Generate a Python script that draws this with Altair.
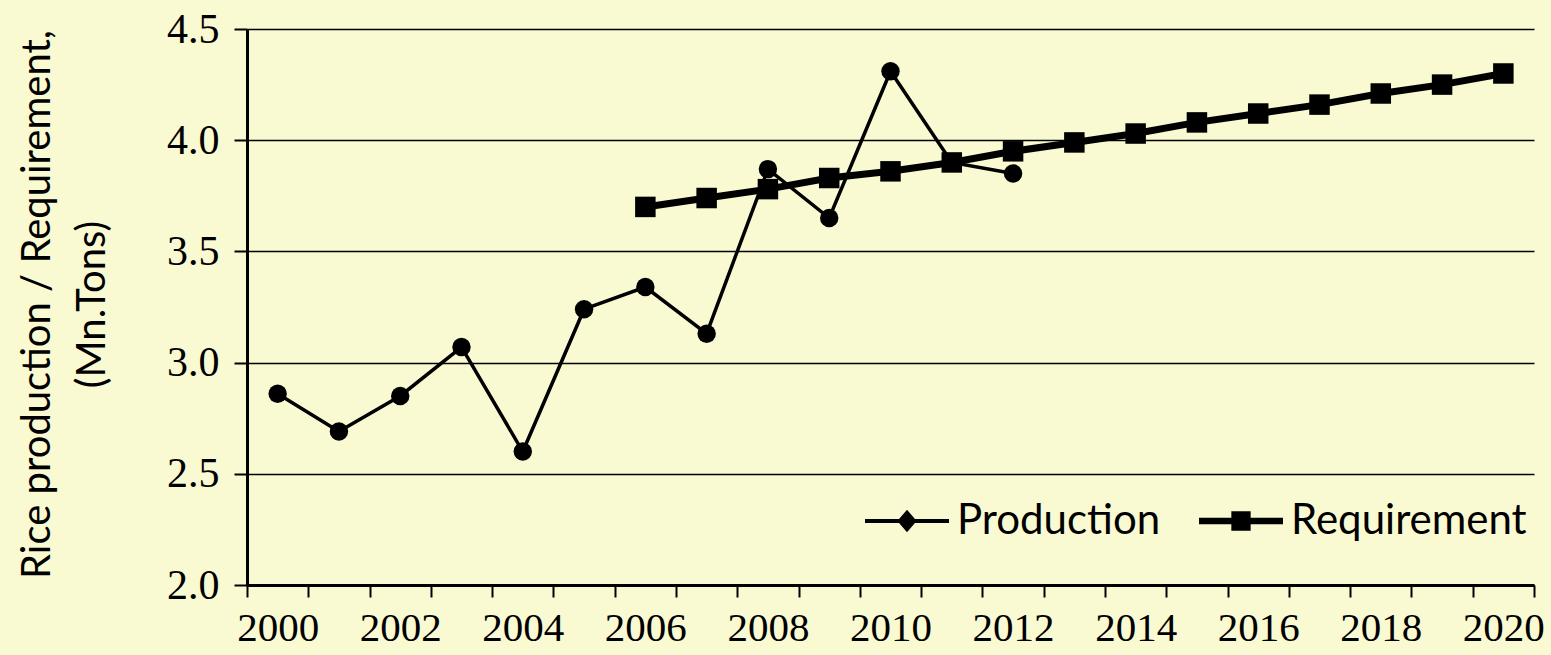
import altair as alt
import pandas as pd

# ---- data ----
prod_years = [2000, 2001, 2002, 2003, 2004, 2005, 2006, 2007, 2008, 2009, 2010, 2011, 2012]
prod_values = [2.86, 2.69, 2.85, 3.07, 2.60, 3.24, 3.34, 3.13, 3.87, 3.65, 4.31, 3.90, 3.85]

req_years = [2006, 2007, 2008, 2009, 2010, 2011, 2012, 2013, 2014, 2015, 2016, 2017, 2018, 2019, 2020]
req_values = [3.70, 3.74, 3.78, 3.83, 3.86, 3.90, 3.95, 3.99, 4.03, 4.08, 4.12, 4.16, 4.21, 4.25, 4.30]

all_years = list(range(2000, 2021))
series_names = ["Production", "Requirement"]
y_title = ["Rice production / Requirement,", "(Mn.Tons)"]

df = pd.DataFrame(
    {"year": prod_years + req_years,
     "value": prod_values + req_values,
     "series": ["Production"] * len(prod_years) + ["Requirement"] * len(req_years)}
)

BG = "#FAFAD2"
SERIF = "Liberation Serif"
SANS = "Lato"

x_enc = alt.X(
    "year:O",
    scale=alt.Scale(domain=all_years, paddingInner=0, paddingOuter=0),
    axis=alt.Axis(
        title=None,
        grid=False,
        tickBand="extent",
        labelExpr="datum.value % 2 == 0 ? datum.label : ''",
        labelAngle=0,
        labelFont=SERIF,
        labelFontSize=41,
        labelColor="black",
        labelPadding=11,
        tickColor="black",
        tickWidth=2,
        tickSize=12,
        domainColor="black",
        domainWidth=3,
        labelOverlap=False,
    ),
)
y_enc = alt.Y(
    "value:Q",
    scale=alt.Scale(domain=[2.0, 4.5], nice=False, zero=False),
    axis=alt.Axis(
        values=[2.0, 2.5, 3.0, 3.5, 4.0, 4.5],
        format=".1f",
        title=y_title,
        titleFont=SANS,
        titleFontSize=40,
        titleFontWeight="normal",
        titleColor="black",
        titleAngle=270,
        titleAlign="center",
        titleBaseline="top",
        titleLineHeight=55,
        titleX=-230,
        titleY=275,
        labelFont=SERIF,
        labelFontSize=42,
        labelColor="black",
        labelPadding=15,
        tickColor="black",
        tickWidth=2,
        tickSize=13,
        domainColor="black",
        domainWidth=3,
        grid=True,
        gridColor="black",
        gridWidth=1.5,
    ),
)

base = alt.Chart(df).encode(x=x_enc, y=y_enc)

prod = base.transform_filter(alt.datum.series == "Production")
req = base.transform_filter(alt.datum.series == "Requirement")

prod_line = prod.mark_line(color="black", strokeWidth=3.5)
prod_pts = prod.mark_point(shape="circle", filled=True, color="black", size=340, opacity=1)
req_line = req.mark_line(color="black", strokeWidth=7)
req_pts = req.mark_point(shape="square", filled=True, color="black", size=420, opacity=1)

path_prod = "M-1,-0.045H1V0.045H-1Z M0,-0.27L0.23,0L0,0.27L-0.23,0Z"
path_req = "M-1,-0.08H1V0.08H-1Z M-0.23,-0.23H0.23V0.23H-0.23Z"

legend_layer = (
    alt.Chart(df)
    .transform_filter("datum.value < 0")
    .mark_point(filled=True, color="black", opacity=1, size=7056, strokeWidth=0)
    .encode(
        shape=alt.Shape(
            "series:N",
            scale=alt.Scale(domain=series_names, range=[path_prod, path_req]),
            legend=alt.Legend(
                title=None,
                orient="none",
                direction="horizontal",
                legendX=618,
                legendY=450,
                labelFont=SANS,
                labelFontSize=42,
                labelColor="black",
                labelOffset=8,
                labelLimit=0,
                columnPadding=38,
                symbolSize=7056,
                symbolFillColor="black",
                symbolStrokeWidth=0,
                symbolOpacity=1,
            ),
        )
    )
)

chart = (
    alt.layer(prod_line, req_line, prod_pts, req_pts, legend_layer)
    .properties(
        width=1287,
        height=556,
        background=BG,
        autosize=alt.AutoSizeParams(type="none"),
        padding={"left": 247, "top": 29, "right": 17, "bottom": 70},
    )
    .configure_view(strokeWidth=0, fill=BG)
)

chart.save("out.html", embed_options={"renderer": "svg", "actions": False})
